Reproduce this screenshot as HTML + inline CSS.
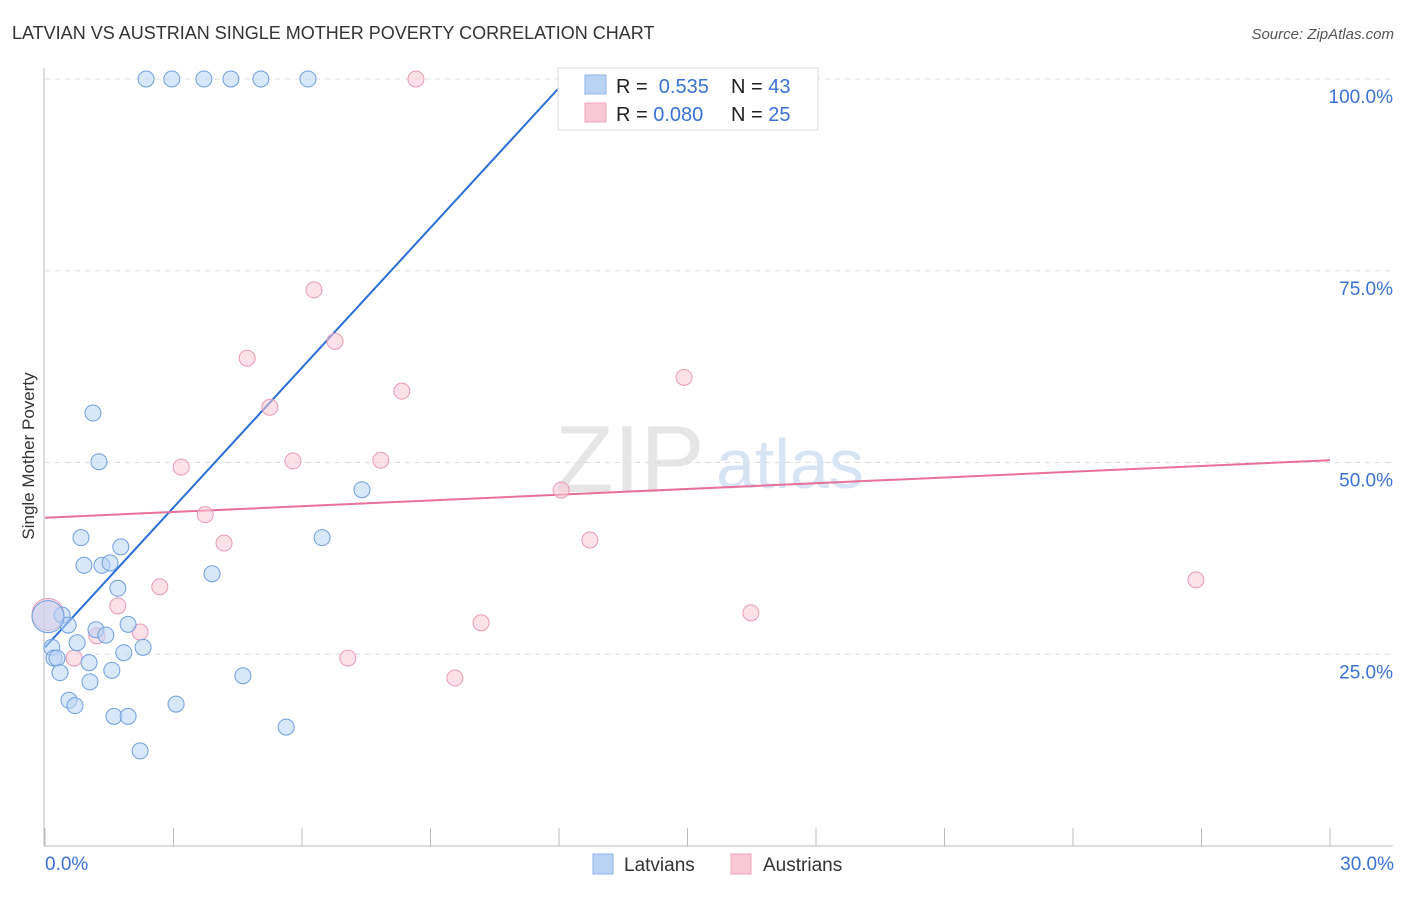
<!DOCTYPE html>
<html><head><meta charset="utf-8"><style>
body{margin:0;background:#fff;font-family:"Liberation Sans",sans-serif;}
svg text{font-family:"Liberation Sans",sans-serif;}
</style></head><body>
<svg id="chart" width="1406" height="892" xmlns="http://www.w3.org/2000/svg">
<text x="12" y="39" font-size="18" fill="#333">LATVIAN VS AUSTRIAN SINGLE MOTHER POVERTY CORRELATION CHART</text>
<text x="1394" y="39" font-size="15" fill="#555" font-style="italic" text-anchor="end">Source: ZipAtlas.com</text>
<text x="34" y="456" font-size="17" fill="#333" text-anchor="middle" transform="rotate(-90 34 456)">Single Mother Poverty</text>
<g>
<text x="555" y="492" font-size="96" fill="#e6e6e6" font-family="Liberation Serif,serif">ZIP</text>
<text x="716" y="488" font-size="70" fill="#d6e4f4">atlas</text>
</g>
<g id="grid"></g><g id="axes"></g><g id="lines"></g><g id="pts"></g>
<g>
<rect x="558" y="68" width="260" height="62" fill="#fff" stroke="#ddd"/>
<rect x="585" y="75" width="21" height="19" fill="#b9d3f5" stroke="#8fb3e6"/>
<rect x="585" y="103" width="21" height="19" fill="#f9c8d6" stroke="#eea6bb"/>
<text x="616" y="93" font-size="20" fill="#222">R = <tspan fill="#3a72d6">&#160;0.535</tspan></text>
<text x="731" y="93" font-size="20" fill="#222">N = <tspan fill="#3a72d6">43</tspan></text>
<text x="616" y="121" font-size="20" fill="#222">R = <tspan fill="#3a72d6">0.080</tspan></text>
<text x="731" y="121" font-size="20" fill="#222">N = <tspan fill="#3a72d6">25</tspan></text>
</g>
<g>
<rect x="593" y="854" width="20" height="20" fill="#b9d3f5" stroke="#8fb3e6"/>
<text x="624" y="871" font-size="19" fill="#333">Latvians</text>
<rect x="731" y="854" width="20" height="20" fill="#f9c8d6" stroke="#eea6bb"/>
<text x="763" y="871" font-size="19" fill="#333">Austrians</text>
</g>
</svg>
<script>
const blueX=[2.36,2.96,3.71,4.34,5.04,6.14,12.86,1.12,1.26,7.40,0.84,6.47,1.77,0.91,1.33,1.52,3.90,1.70,0.40,0.54,1.19,1.94,1.42,2.29,1.84,0.16,0.75,0.21,0.28,1.03,0.35,1.56,1.05,4.62,0.56,0.70,3.06,1.61,1.94,5.63,2.22,0.07];
const blueY=[100,100,100,100,100,100,100,56.45,50.1,46.45,40.2,40.2,39.0,36.6,36.6,36.9,35.5,33.6,30.1,28.8,28.2,28.9,27.5,25.9,25.2,25.9,26.5,24.5,24.5,23.9,22.6,22.9,21.4,22.2,19.0,18.3,18.5,16.9,16.9,15.5,12.4,29.9];
const pinkX=[8.66,6.28,6.77,4.72,8.33,14.92,5.25,3.18,5.79,7.84,12.05,3.74,4.18,12.72,2.68,26.87,1.70,16.48,2.22,1.21,10.18,0.68,7.07,9.57,0.07];
const pinkY=[100,72.5,65.8,63.6,59.3,61.1,57.2,49.4,50.2,50.3,46.4,43.2,39.5,39.9,33.8,34.7,31.3,30.4,27.9,27.4,29.1,24.5,24.5,21.9,30.2];
const blueLine=[[0,25.9],[12.19,100]];
const pinkLine=[[0,42.8],[30,50.3]];
const yTicks=[25,50,75,100];
const xTicks=[0,3,6,9,12,15,18,21,24,27,30];
const NS="http://www.w3.org/2000/svg";
const sx=v=>45+v/30*1285, sy=v=>846-v/100*767;
function mk(tag,attrs,parent){const e=document.createElementNS(NS,tag);for(const k in attrs)e.setAttribute(k,attrs[k]);document.getElementById(parent).appendChild(e);return e;}
yTicks.forEach(t=>{
 const l=mk('line',{x1:45,x2:1393,y1:sy(t),y2:sy(t),stroke:'#ddd','stroke-dasharray':'5,5'},'grid');
 
 
 const tx=mk('text',{x:1393,y:sy(t)+24,'font-size':19,fill:'#3a72d6','text-anchor':'end'},'grid');
 tx.textContent=t.toFixed(1)+'%';
 
 
});
const ax=mk('line',{x1:44,x2:44,y1:68,y2:846,stroke:'#bbb'},'axes');


const bx=mk('line',{x1:44,x2:1393,y1:846,y2:846,stroke:'#bbb'},'axes');


xTicks.forEach(t=>{
 const l=mk('line',{x1:sx(t),x2:sx(t),y1:828,y2:846,stroke:'#bbb'},'axes');
 
 
});
[[0,'0.0%','start',45],[30,'30.0%','end',1394]].forEach(a=>{
 const t=mk('text',{x:a[3],y:870,'font-size':19,fill:'#3a72d6','text-anchor':a[2]},'axes');
 t.textContent=a[1];
 
 
});
function pts(X,Y,fill,stroke,name){X.forEach((x,i)=>{
 const big=x<0.1;
 const c=mk('circle',{cx:sx(x),cy:sy(Y[i]),r:big?16:8,fill:fill,'fill-opacity':0.55,stroke:stroke,'stroke-width':1},'pts');
 
 
});}
pts(pinkX,pinkY,'#f9c8d6','#e99bb3','austrian-point');
pts(blueX,blueY,'#b9d3f5','#6f9fe0','latvian-point');
const bl=mk('line',{x1:sx(blueLine[0][0]),y1:sy(blueLine[0][1]),x2:sx(blueLine[1][0]),y2:sy(blueLine[1][1]),stroke:'#2a6fd6','stroke-width':2},'lines');


const pl=mk('line',{x1:sx(pinkLine[0][0]),y1:sy(pinkLine[0][1]),x2:sx(pinkLine[1][0]),y2:sy(pinkLine[1][1]),stroke:'#e8709a','stroke-width':2},'lines');


</script>
</body></html>
